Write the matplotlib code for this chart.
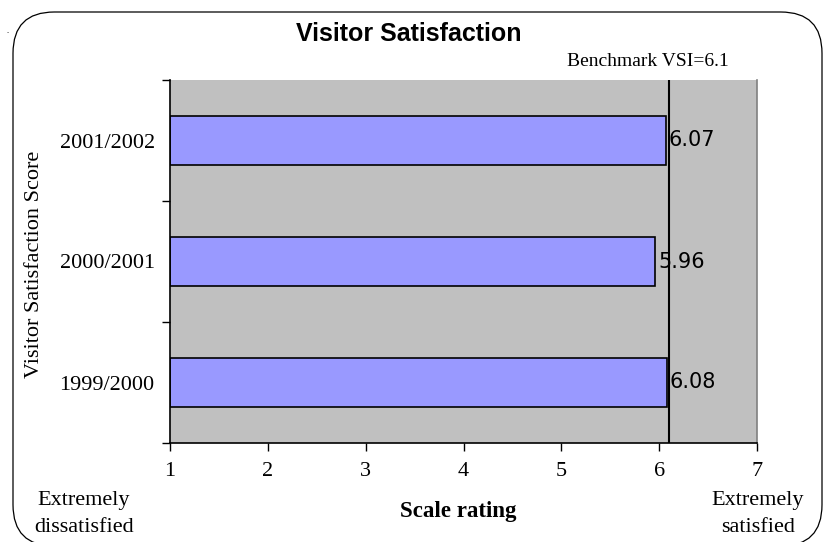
import matplotlib
matplotlib.use("Agg")
import matplotlib.pyplot as plt
from matplotlib.patches import FancyBboxPatch
import numpy as np

categories = ["1999/2000", "2000/2001", "2001/2002"]
scores = [6.08, 5.96, 6.07]
benchmark = 6.1
x_ticks = [1, 2, 3, 4, 5, 6, 7]

SERIF = "Liberation Serif"
SANS = "Liberation Sans"

fig = plt.figure(figsize=(8.26, 5.42), dpi=100)
fig.patch.set_facecolor("white")

# rounded border around chart
W, H = 826, 542
bx0, by0, bx1, by1 = 13, -4, 822, 12
border = FancyBboxPatch((bx0 / W, by0 / H), (bx1 - bx0) / W, (H - by1 - by0) / H,
                        boxstyle="round,pad=0,rounding_size=0.05",
                        transform=fig.transFigure, facecolor="none",
                        edgecolor="black", linewidth=0.9, mutation_aspect=W / H)
fig.patches.append(border)

ax = fig.add_axes([170 / W, 1 - 443 / H, (757 - 170) / W, (443 - 80) / H])
ax.set_facecolor("#C0C0C0")

y = np.arange(len(categories))
ax.barh(y, [s - 1 for s in scores], left=1, height=0.4, color="#9999FF",
        edgecolor="black", linewidth=1.2, zorder=2)
ax.axvline(benchmark, color="black", linewidth=1.5, zorder=3)

for yi, s in zip(y, scores):
    ax.text(s + 0.03, yi, f"{s:.2f}", va="center", ha="left", fontsize=15,
            family="DejaVu Sans", zorder=4)

ax.set_xlim(1, 7)
ax.set_ylim(-0.5, len(categories) - 0.5)
ax.set_xticks(x_ticks)
ax.set_xticklabels([str(t) for t in x_ticks], family=SERIF, fontsize=16)
ax.set_yticks(y)
ax.set_yticklabels(categories, family=SERIF, fontsize=16)
ax.set_yticks(np.arange(-0.5, len(categories), 1.0), minor=True)
ax.tick_params(axis="y", which="major", length=0, pad=11)
ax.tick_params(axis="y", which="minor", length=6, direction="out", width=1)
ax.tick_params(axis="x", which="major", length=6, direction="out", width=1, pad=8)

ax.spines["top"].set_visible(False)
ax.spines["right"].set_color("#808080")
ax.spines["right"].set_linewidth(1.2)
ax.spines["left"].set_linewidth(1.2)
ax.spines["bottom"].set_linewidth(1.2)

fig.text(0.495, 1 - 34 / H, "Visitor Satisfaction", ha="center", va="center",
         fontsize=18, fontweight="bold", family=SANS)
fig.text(648 / W, 1 - 62 / H, "Benchmark VSI=6.1", ha="center", va="center",
         fontsize=14, family=SERIF)
fig.text(35 / W, 1 - 264 / H, "Visitor Satisfaction Score", rotation=90,
         ha="center", va="center", fontsize=16, family=SERIF)
fig.text(458 / W, 1 - 512 / H, "Scale rating", ha="center", va="center",
         fontsize=16.5, fontweight="bold", family=SERIF)
fig.text(84 / W, 1 - 514 / H, "Extremely\ndissatisfied", ha="center", va="center",
         fontsize=16, family=SERIF, linespacing=1.6)
fig.text(758 / W, 1 - 514 / H, "Extremely\nsatisfied", ha="center", va="center",
         fontsize=16, family=SERIF, linespacing=1.6)
fig.text(8 / W, 1 - 35 / H, ".", ha="center", va="bottom", fontsize=6, family=SERIF)

fig.savefig("out.png", dpi=100)
